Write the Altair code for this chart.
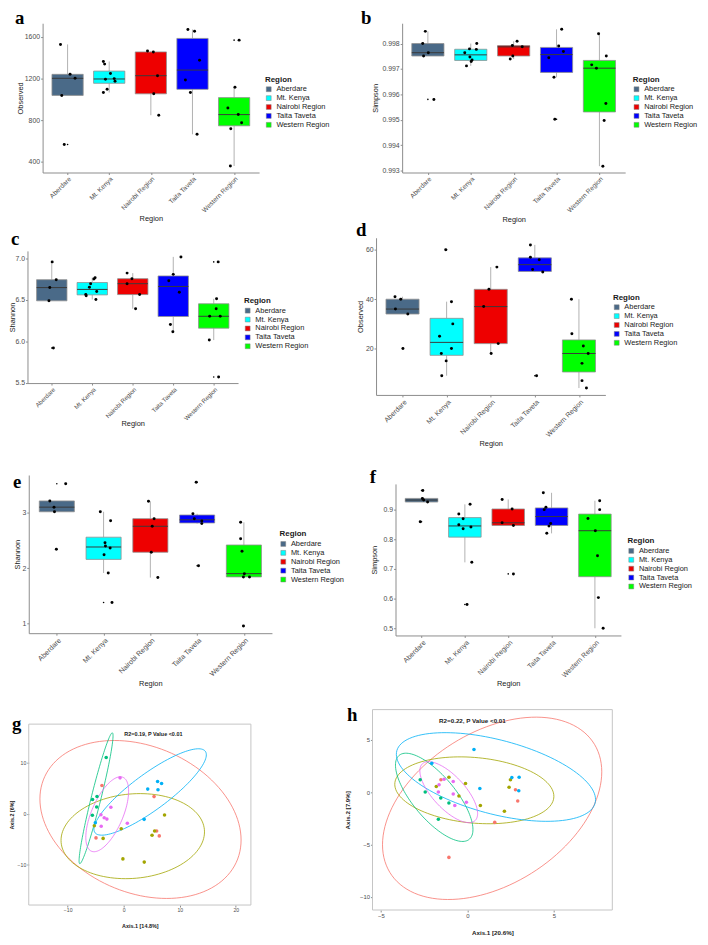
import altair as alt
import numpy as np
import pandas as pd

# ---------------------------------------------------------------- data
REGIONS = ["Aberdare", "Mt. Kenya", "Nairobi Region", "Taita Taveta", "Western Region"]
BOX_COLORS = ["#4a6a88", "#00ffff", "#ee0000", "#0000ff", "#00ff00"]
PCOA_COLORS = ["#F8766D", "#A3A500", "#00BF7D", "#00B0F6", "#E76BF3"]
PANEL_LETTERS = ["a", "b", "c", "d", "e", "f", "g", "h"]

# a: Observed (dataset 1), one list per region, and horizontal jitter (category units)
A_VALS = [[1527, 1240, 1202, 1038, 567],
          [1363, 1338, 1249, 1192, 1199, 1173, 1098, 1066],
          [1464, 1455, 1227, 1053, 848],
          [1670, 1654, 1376, 1186, 1066, 665],
          [1568, 1117, 917, 854, 775, 718, 361]]
A_JIT = [[-0.17, 0.06, 0.18, -0.14, -0.08],
         [-0.14, -0.11, 0.03, -0.09, 0.12, 0.14, -0.05, -0.14],
         [-0.08, 0.06, 0.16, 0.07, 0.19],
         [-0.11, 0.05, 0.17, -0.17, -0.05, 0.11],
         [0.12, 0.02, -0.15, 0.10, 0.18, -0.08, -0.09]]

# b: Simpson (dataset 1)
B_VALS = [[0.99848, 0.99800, 0.99764, 0.99751, 0.99580],
          [0.99800, 0.99779, 0.99777, 0.99764, 0.99747, 0.99735, 0.99729, 0.99712],
          [0.99809, 0.99792, 0.99787, 0.99751, 0.99739],
          [0.99856, 0.99790, 0.99769, 0.99744, 0.99667, 0.99502],
          [0.99839, 0.99751, 0.99716, 0.99703, 0.99564, 0.99497, 0.99317]]
B_JIT = [[-0.06, -0.12, 0.01, -0.10, 0.14],
         [0.14, -0.03, 0.13, -0.14, -0.02, 0.03, 0.01, -0.10],
         [0.08, -0.03, 0.20, -0.02, -0.08],
         [0.12, 0.05, 0.16, -0.18, -0.06, -0.04],
         [-0.02, 0.16, -0.18, -0.07, 0.15, 0.11, 0.08]]

# c: Shannon (dataset 1)
C_VALS = [[6.956, 6.742, 6.647, 6.488, 5.921],
          [6.766, 6.750, 6.694, 6.651, 6.599, 6.563, 6.548, 6.504],
          [6.821, 6.754, 6.694, 6.563, 6.393],
          [7.016, 6.806, 6.730, 6.591, 6.202, 6.115],
          [6.956, 6.512, 6.393, 6.302, 6.302, 6.016, 5.571]]
C_JIT = [[0.01, 0.11, -0.05, -0.07, 0.04],
         [0.07, 0.04, -0.04, -0.07, 0.11, -0.16, -0.15, 0.09],
         [-0.14, -0.02, -0.14, 0.17, 0.07],
         [0.19, 0.00, -0.11, 0.15, -0.07, -0.01],
         [0.11, 0.07, 0.06, -0.10, 0.16, -0.11, 0.12]]

# d: Observed (dataset 2)
D_VALS = [[41, 40, 36, 34, 20],
          [60, 39, 30, 25, 20, 18, 15, 9],
          [53, 44, 37, 22, 18],
          [62, 57, 56, 52, 51, 9],
          [40, 26, 21, 18, 14, 7, 4]]
D_JIT = [[-0.17, -0.04, -0.16, 0.12, 0.01],
         [-0.02, 0.11, 0.14, -0.16, 0.11, -0.12, -0.01, -0.11],
         [0.14, -0.04, -0.16, 0.17, 0.01],
         [-0.10, -0.10, 0.10, -0.05, 0.18, 0.04],
         [-0.17, -0.16, 0.10, 0.21, 0.07, 0.07, 0.17]]

# e: Shannon (dataset 2)
E_VALS = [[3.515, 3.207, 3.095, 3.012, 2.337],
          [3.012, 2.852, 2.456, 2.396, 2.361, 2.237, 1.911, 1.379],
          [3.201, 2.888, 2.751, 2.284, 1.828],
          [3.544, 2.976, 2.888, 2.846, 2.799, 2.041],
          [2.822, 2.527, 2.302, 1.899, 1.840, 1.840, 0.957]]
E_JIT = [[0.19, -0.15, -0.06, -0.05, -0.01],
         [-0.07, 0.15, 0.03, 0.04, 0.14, 0.01, 0.10, 0.18],
         [-0.04, 0.08, 0.04, 0.02, 0.16],
         [-0.02, -0.09, -0.06, 0.10, 0.10, 0.03],
         [-0.07, -0.07, -0.04, 0.01, -0.01, 0.12, -0.01]]

# f: Simpson (dataset 2)
F_VALS = [[0.9644, 0.9378, 0.9322, 0.9256, 0.8589],
          [0.9178, 0.8856, 0.8689, 0.8489, 0.8411, 0.8356, 0.7222, 0.5800],
          [0.9344, 0.9022, 0.8556, 0.8467, 0.6833],
          [0.9567, 0.9078, 0.9000, 0.8533, 0.8444, 0.8200],
          [0.9300, 0.9000, 0.8700, 0.8289, 0.7444, 0.6033, 0.5000]]
F_JIT = [[0.03, 0.02, 0.05, 0.14, -0.03],
         [0.12, -0.14, -0.04, -0.14, 0.14, -0.04, 0.16, 0.05],
         [-0.14, 0.09, -0.14, 0.12, 0.12],
         [-0.19, -0.13, -0.17, -0.02, -0.06, -0.11],
         [0.11, 0.11, -0.16, 0.01, 0.06, 0.08, 0.19]]

# g: PCoA (dataset 1)
G_X = [[-3.88, 5.42, 5.88, 6.35, -4.94],
       [7.29, -0.44, 5.52, 5.06, -5.24, -3.67, -0.14, 3.67],
       [-3.12, -4.76, -5.56, -4.82, -5.59],
       [6.05, 6.76, 4.29, 6.12, 3.65, -5.06],
       [-0.65, -2.29, -4.06, -3.48, -3.00, 0.65, -4.01]]
G_Y = [[5.55, 3.37, -3.35, -4.31, -4.70],
       [-0.21, -2.90, -3.35, -4.18, -2.34, -4.80, -8.81, -9.44],
       [11.03, 3.39, 2.79, 1.34, -0.29],
       [6.33, 5.94, 4.84, 4.72, -1.08, -1.74],
       [7.04, 1.30, -0.19, -0.77, -1.03, -1.84, -2.44]]
# ellipses: centre x, centre y, half-width, half-height, correlation
G_ELL_CX = [3.0, 1.62, -4.93, 4.72, -2.94]
G_ELL_CY = [-1.1, -4.36, 3.05, 4.28, -0.08]
G_ELL_HX = [17.95, 12.8, 3.03, 10.03, 3.82]
G_ELL_HY = [15.45, 8.32, 12.8, 8.45, 7.33]
G_ELL_RHO = [-0.26, 0.10, 0.955, 0.86, 0.615]

# h: PCoA (dataset 2)
H_X = [[-1.53, 2.78, 2.91, 1.58, -1.07],
       [-1.07, -1.80, -0.11, -0.49, 0.75, 2.14, 2.49, 2.41],
       [-2.73, -2.44, -1.54, -1.07, -1.68],
       [0.38, -2.06, 0.72, 2.57, 2.99, 2.97],
       [-1.35, -1.64, -0.82, -1.68, -0.82, -0.06, -0.73]]
H_Y = [[1.17, 0.23, -0.85, -2.89, -6.23],
       [1.42, 0.54, 0.82, -0.38, -1.28, -1.82, 1.17, 0.47],
       [1.17, 0.00, -0.57, -1.04, -2.60],
       [4.06, 2.74, 0.35, 1.39, 1.42, 0.13],
       [1.23, 0.70, 1.01, 0.00, -0.19, -0.97, -1.28]]
H_ELL_CX = [1.43, 0.40, -1.92, 1.65, -1.08]
H_ELL_CY = [-1.55, 0.17, -0.50, 1.44, -0.01]
H_ELL_HX = [6.34, 4.60, 2.24, 5.76, 1.67]
H_ELL_HY = [8.70, 3.19, 4.21, 4.23, 2.91]
H_ELL_RHO = [0.40, -0.18, -0.73, -0.51, -0.70]

# ---------------------------------------------------------------- layout / style
M = 8                 # page margin (layout numbers below are page pixels)
VW, VH = 700, 937
FONT = "Liberation Sans"
AX_GREY = "#8c8c8c"
TXT_GREY = "#4d4d4d"
DARK = "#1a1a1a"


def label_expr():
    return "[" + ",".join("'" + r + "'" for r in REGIONS) + "][datum.value - 1]"


def box_panel(vals, jit, ytitle, xr, yr, ydom, yticks, yfmt, leg_xy,
              ytitle_x, xtitle_y, xlab_fs):
    pts, boxes, outs = [], [], []
    for i, reg in enumerate(REGIONS):
        v = np.asarray(vals[i], float)
        q1, med, q3 = np.percentile(v, [25, 50, 75])
        iqr = q3 - q1
        lo_f, hi_f = q1 - 1.5 * iqr, q3 + 1.5 * iqr
        inside = v[(v >= lo_f) & (v <= hi_f)]
        c = i + 1
        boxes.append({"Region": reg, "c": c, "l": c - 0.375, "r": c + 0.375,
                      "q1": q1, "q3": q3, "med": med,
                      "lo": inside.min(), "hi": inside.max()})
        for val in v[(v < lo_f) | (v > hi_f)]:
            outs.append({"c": c, "v": float(val)})
        for val, dj in zip(v, jit[i]):
            pts.append({"x": c + dj, "v": float(val)})
    bdf = pd.DataFrame(boxes)
    odf = pd.DataFrame(outs, columns=["c", "v"])
    pdf = pd.DataFrame(pts)

    xs = alt.Scale(domain=[0.4, 5.6], range=[xr[0] - M, xr[1] - M], nice=False, zero=False)
    ys = alt.Scale(domain=ydom, range=[yr[1] - M, yr[0] - M], nice=False, zero=False)
    xax = alt.Axis(orient="bottom", offset=(yr[1] - M) - VH, values=[1, 2, 3, 4, 5],
                   labelExpr=label_expr(), labelAngle=-45, labelAlign="right",
                   labelBaseline="top", labelFont=FONT, labelFontSize=xlab_fs,
                   labelColor=TXT_GREY, labelPadding=1, labelFlush=False, labelOverlap=False,
                   title="Region", titleFont=FONT, titleFontSize=7.5, titleFontWeight="normal",
                   titleColor=DARK, titleY=xtitle_y - yr[1], titleBaseline="middle",
                   grid=False, domainColor=AX_GREY, domainWidth=1, tickColor=AX_GREY,
                   tickSize=2)
    yax = alt.Axis(orient="left", offset=-(xr[0] - M), values=yticks, format=yfmt,
                   labelFont=FONT, labelFontSize=7, labelColor=TXT_GREY, labelPadding=1,
                   labelOverlap=False, labelFlush=False,
                   title=ytitle, titleFont=FONT, titleFontSize=7.5, titleFontWeight="normal",
                   titleColor=DARK, titleX=ytitle_x - xr[0], titleBaseline="middle",
                   grid=False, domainColor=AX_GREY, domainWidth=1, tickColor=AX_GREY,
                   tickSize=2)
    leg = alt.Legend(orient="none", legendX=leg_xy[0] - M, legendY=leg_xy[1] - M,
                     title="Region", symbolType="square", symbolSize=24,
                     symbolStrokeColor="#7f7f7f", symbolStrokeWidth=0.5,
                     labelFont=FONT, labelFontSize=7.5, labelColor=DARK, labelOffset=4,
                     titleFont=FONT, titleFontSize=8, titleFontWeight="bold", titleColor=DARK,
                     titlePadding=2, rowPadding=0, padding=0)

    def X(f):
        return alt.X(f, type="quantitative", scale=xs, axis=xax)

    def Y(f):
        return alt.Y(f, type="quantitative", scale=ys, axis=yax)

    wh_hi = alt.Chart(bdf).mark_rule(color="#a8a8a8", strokeWidth=0.9).encode(
        x=X("c"), y=Y("q3"), y2="hi:Q")
    wh_lo = alt.Chart(bdf).mark_rule(color="#a8a8a8", strokeWidth=0.9).encode(
        x=X("c"), y=Y("lo"), y2="q1:Q")
    box = alt.Chart(bdf).mark_rect(stroke="#8f8f8f", strokeWidth=0.8).encode(
        x=X("l"), x2="r:Q", y=Y("q1"), y2="q3:Q",
        color=alt.Color("Region:N", scale=alt.Scale(domain=REGIONS, range=BOX_COLORS), legend=leg))
    med = alt.Chart(bdf).mark_rule(color="#3a3a3a", strokeWidth=1).encode(
        x=X("l"), x2="r:Q", y=Y("med"))
    out = alt.Chart(odf).mark_circle(color="black", opacity=1, size=2.5).encode(
        x=X("c"), y=Y("v"))
    dots = alt.Chart(pdf).mark_circle(color="black", opacity=1, size=9).encode(
        x=X("x"), y=Y("v"))
    return alt.layer(wh_hi, wh_lo, box, med, out, dots)


def pcoa_panel(px, py, ecx, ecy, ehx, ehy, erho, xr, yr, xdom, ydom, xticks, yticks,
               xtitle, ytitle, note, note_xy, leg_xy, fs, ytitle_x, xtitle_y, leg_fs):
    prow, erow = [], []
    for i, reg in enumerate(REGIONS):
        for x, y in zip(px[i], py[i]):
            prow.append({"Region": reg, "x": x, "y": y})
        t = np.linspace(0, 2 * np.pi, 121)
        ex = ecx[i] + ehx[i] * np.cos(t)
        ey = ecy[i] + ehy[i] * (erho[i] * np.cos(t) + np.sqrt(1 - erho[i] ** 2) * np.sin(t))
        for k in range(len(t)):
            erow.append({"Region": reg, "k": k, "x": ex[k], "y": ey[k]})
    pdf = pd.DataFrame(prow)
    edf = pd.DataFrame(erow)
    bdf = pd.DataFrame([{"x0": xdom[0], "x1": xdom[1], "y0": ydom[0], "y1": ydom[1]}])
    ndf = pd.DataFrame([{"x": note_xy[0], "y": note_xy[1], "t": note}])

    xs = alt.Scale(domain=xdom, range=[xr[0] - M, xr[1] - M], nice=False, zero=False)
    ys = alt.Scale(domain=ydom, range=[yr[1] - M, yr[0] - M], nice=False, zero=False)
    xax = alt.Axis(orient="bottom", offset=(yr[1] - M) - VH, values=xticks, format="d",
                   labelFont=FONT, labelFontSize=fs, labelColor=TXT_GREY, labelPadding=1,
                   labelFlush=False, labelOverlap=False, domain=False,
                   title=xtitle, titleFont=FONT, titleFontSize=fs + 0.3, titleFontWeight="bold",
                   titleColor=DARK, titleY=xtitle_y - yr[1], titleBaseline="middle",
                   grid=False, tickColor=AX_GREY, tickSize=2)
    yax = alt.Axis(orient="left", offset=-(xr[0] - M), values=yticks, format="d",
                   labelFont=FONT, labelFontSize=fs, labelColor=TXT_GREY, labelPadding=1,
                   labelFlush=False, labelOverlap=False, domain=False,
                   title=ytitle, titleFont=FONT, titleFontSize=fs + 0.3, titleFontWeight="bold",
                   titleColor=DARK, titleX=ytitle_x - xr[0], titleBaseline="middle",
                   grid=False, tickColor=AX_GREY, tickSize=2)
    cs = alt.Scale(domain=REGIONS, range=PCOA_COLORS)
    leg = alt.Legend(orient="none", legendX=leg_xy[0] - M, legendY=leg_xy[1] - M,
                     title="Region", symbolType="circle", symbolSize=14,
                     labelFont=FONT, labelFontSize=leg_fs, labelColor=DARK, labelOffset=3,
                     titleFont=FONT, titleFontSize=leg_fs + 0.4, titleFontWeight="bold",
                     titleColor=DARK, titlePadding=2.5, rowPadding=0.8, padding=0)

    def X(f):
        return alt.X(f, type="quantitative", scale=xs, axis=xax)

    def Y(f):
        return alt.Y(f, type="quantitative", scale=ys, axis=yax)

    border = alt.Chart(bdf).mark_rect(fillOpacity=0, stroke="#c4c4c4", strokeWidth=1).encode(
        x=X("x0"), x2="x1:Q", y=Y("y0"), y2="y1:Q")
    ell = alt.Chart(edf).mark_line(strokeWidth=0.8).encode(
        x=X("x"), y=Y("y"), detail="Region:N", order="k:Q",
        color=alt.Color("Region:N", scale=cs, legend=None))
    dots = alt.Chart(pdf).mark_circle(opacity=1, size=13).encode(
        x=X("x"), y=Y("y"), color=alt.Color("Region:N", scale=cs, legend=leg))
    txt = alt.Chart(ndf).mark_text(font=FONT, fontWeight="bold", fontSize=fs + 0.3,
                                   color=DARK).encode(x=X("x"), y=Y("y"), text="t:N")
    return alt.layer(border, ell, dots, txt)


pa = box_panel(A_VALS, A_JIT, "Observed", (43, 262), (18, 169), [298.6, 1730],
               [400, 800, 1200, 1600], "d", (268, 71), 20.3, 216, 6.7)
pb = box_panel(B_VALS, B_JIT, "Simpson", (406.7, 632.3), (18, 169), [0.99292, 0.99880],
               [0.993, 0.994, 0.995, 0.996, 0.997, 0.998], ".3f", (640, 71), 380, 216.7, 6.7)
pc = box_panel(C_VALS, C_JIT, "Shannon", (27.7, 240.7), (248.3, 382), [5.499, 7.088],
               [5.5, 6.0, 6.5, 7.0], ".1f", (246.7, 295), 12.3, 423.3, 6.2)
pd_ = box_panel(D_VALS, D_JIT, "Observed", (380.3, 612.3), (235, 394), [1.2, 64.9],
                [20, 40, 60], "d", (620, 291.5), 364.7, 443.3, 7.0)
pe = box_panel(E_VALS, E_JIT, "Shannon", (29, 275), (475, 635), [0.828, 3.673],
               [1, 2, 3], "d", (282.7, 531), 17.3, 685.7, 7.2)
pf = box_panel(F_VALS, F_JIT, "Simpson", (400, 628), (484, 637.3), [0.4757, 0.9867],
               [0.5, 0.6, 0.7, 0.8, 0.9], ".1f", (634.7, 538), 379, 686, 7.0)
pg = pcoa_panel(G_X, G_Y, G_ELL_CX, G_ELL_CY, G_ELL_HX, G_ELL_HY, G_ELL_RHO,
                (29, 253.7), (727, 910), [-16.94, 22.7], [-17.84, 17.55],
                [-10, 0, 10, 20], [-10, 0, 10], "Axis.1 [14.8%]", "Axis.2 [6%]",
                "R2=0.19, P Value <0.01", (5.3, 15.6), (266.7, 799.5), 5.2, 11.5, 931, 4.9)
ph = pcoa_panel(H_X, H_Y, H_ELL_CX, H_ELL_CY, H_ELL_HX, H_ELL_HY, H_ELL_RHO,
                (376.7, 619.3), (712.3, 915), [-5.49, 8.38], [-11.25, 7.87],
                [-5, 0, 5], [-10, -5, 0, 5], "Axis.1 [20.6%]", "Axis.2 [7.9%]",
                "R2=0.22, P Value <0.01", (0.29, 6.74), (626.3, 792.5), 6.0, 351.7, 937.5, 6.1)

LETTER_POS = [(15, 19), (365, 19), (11, 242), (360, 233), (13, 488), (374, 483),
              (12, 733), (351, 724)]
letters = []
for lt, (lx, ly) in zip(PANEL_LETTERS, LETTER_POS):
    letters.append(
        alt.Chart(pd.DataFrame({"t": [lt]})).mark_text(
            font="Liberation Serif", fontWeight="bold", fontSize=19, align="left",
            baseline="alphabetic", color="black").encode(
            x=alt.value(lx - M), y=alt.value(ly - M), text="t:N"))

chart = (
    alt.layer(pa, pb, pc, pd_, pe, pf, pg, ph, *letters)
    .resolve_scale(x="independent", y="independent", color="independent")
    .resolve_axis(x="independent", y="independent")
    .resolve_legend(color="independent")
    .properties(width=VW, height=VH, padding=0, autosize=alt.AutoSizeParams(type="none"))
    .configure_view(stroke=None)
)

chart.save("out.html", embed_options={"renderer": "svg", "actions": False})
